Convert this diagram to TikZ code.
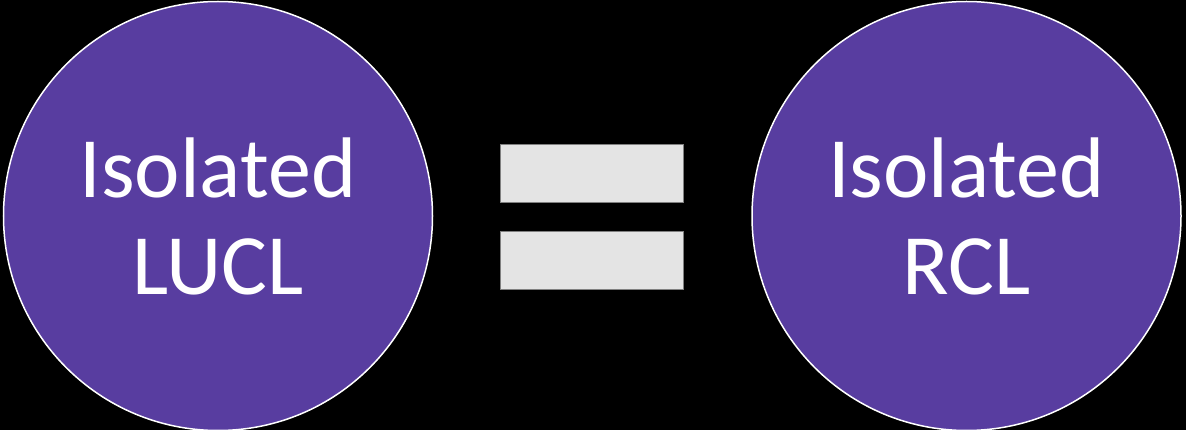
\documentclass[tikz,border=0pt]{standalone}
\usepackage{fontspec}
\setmainfont{Carlito}
\usetikzlibrary{positioning}

\definecolor{clpurple}{RGB}{88,61,160}
\definecolor{bargray}{RGB}{228,228,228}

\begin{document}
\begin{tikzpicture}[
    x=1pt, y=-1pt,
    bubble/.style={circle, draw=white, line width=1.5pt, fill=clpurple, minimum size=429pt, inner sep=0pt, text=white, align=center, font=\fontsize{86}{97}\selectfont},
    bar/.style={draw=gray, line width=0.8pt, fill=bargray, minimum width=183pt, minimum height=58pt, inner sep=0pt}
]

% background
\fill[black] (0,0) rectangle (1186,430);
\useasboundingbox (0,0) rectangle (1186,430);

\node[bubble] (lucl) at (218,216) {Isolated\\LUCL};
\node[bubble, right=318pt of lucl] (rcl) {Isolated\\RCL};

\node[bar] (bartop) at (592,173) {};
\node[bar, below=29pt of bartop] (barbot) {};

\end{tikzpicture}
\end{document}
